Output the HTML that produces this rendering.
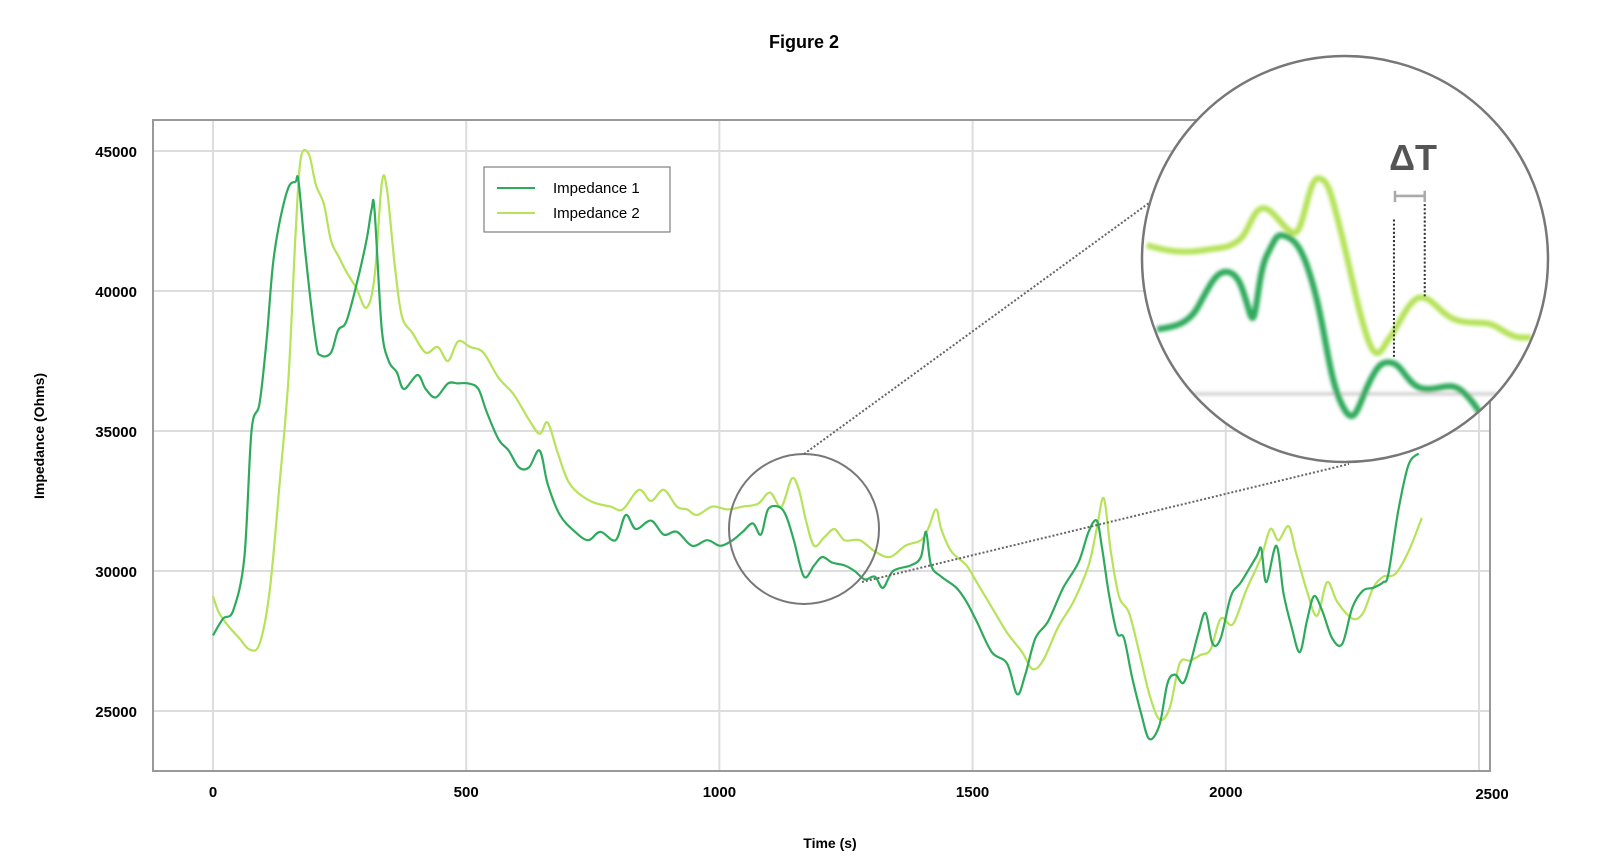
<!DOCTYPE html>
<html><head><meta charset="utf-8"><style>
body{margin:0;background:#fff;}
svg{display:block;font-family:"Liberation Sans",sans-serif;}
</style></head><body>
<svg id="chart" width="1600" height="856" viewBox="0 0 1600 856">
<defs>
<clipPath id="magclip"><circle cx="1345" cy="259" r="202"/></clipPath>
<filter id="blur"><feGaussianBlur stdDeviation="1.6"/></filter>
</defs>
<text x="804" y="48" text-anchor="middle" font-size="18" font-weight="bold">Figure 2</text>
<text transform="translate(44,436) rotate(-90)" text-anchor="middle" font-size="14" font-weight="bold">Impedance (Ohms)</text>
<text x="830" y="848" text-anchor="middle" font-size="14" font-weight="bold">Time (s)</text>
<g id="grid"></g>
<g id="ticks"></g>
<rect x="153" y="120" width="1337" height="651" fill="none" stroke="#999" stroke-width="2"/>
<g id="series"></g>
<g>
<rect x="484" y="167" width="186" height="65" fill="#fff" stroke="#666" stroke-width="1"/>
<line x1="497" y1="188" x2="535" y2="188" stroke="#2eaa5c" stroke-width="2"/>
<text x="553" y="193" font-size="15">Impedance 1</text>
<line x1="497" y1="213" x2="535" y2="213" stroke="#b6e35a" stroke-width="2"/>
<text x="553" y="218" font-size="15">Impedance 2</text>
</g>
<g>
<circle cx="804" cy="529" r="75" fill="none" stroke="#777" stroke-width="2"/>
<line x1="804" y1="454" x2="1160" y2="195" stroke="#666" stroke-width="2" stroke-dasharray="2,2"/>
<line x1="862" y1="582" x2="1349" y2="464" stroke="#666" stroke-width="2" stroke-dasharray="2,2"/>
<circle cx="1345" cy="259" r="202" fill="#fff"/>
<g clip-path="url(#magclip)">
<g transform="translate(-7,-1) scale(1.0256)">
<g filter="url(#blur)">
<line x1="1100" y1="385" x2="1520" y2="385" stroke="#ccc" stroke-width="3"/>
<path fill="none" stroke="#b6e35a" stroke-width="6" d="M1125,240 C1145,246 1160,248 1180,245 S1205,243 1215,235 S1228,205 1238,204 S1258,225 1268,228 S1282,175 1292,175 S1305,190 1315,230 S1330,300 1340,330 S1355,338 1362,330 S1380,292 1392,291 S1412,310 1430,314 S1455,312 1470,322 S1490,330 1500,330"/>
<path fill="none" stroke="#2eaa5c" stroke-width="6" d="M1135,322 C1150,320 1165,318 1175,300 S1192,265 1203,266 S1218,280 1225,305 S1232,270 1242,250 S1252,228 1262,232 S1280,250 1290,290 S1303,370 1315,395 S1330,400 1340,378 S1355,352 1365,355 S1380,378 1395,380 S1420,372 1432,382 S1450,405 1465,425"/>
</g>
<line x1="1366" y1="215" x2="1366" y2="350" stroke="#333" stroke-width="2" stroke-dasharray="2,2"/>
<line x1="1396" y1="200" x2="1396" y2="290" stroke="#333" stroke-width="2" stroke-dasharray="2,2"/>
<path d="M1367,187 V198 M1367,192 H1396 M1396,187 V198" stroke="#aaa" stroke-width="2.5" fill="none"/>
</g>
<text x="1413" y="170" text-anchor="middle" font-size="36" font-weight="bold" fill="#555">ΔT</text>
</g>
<circle cx="1345" cy="259" r="203" fill="none" stroke="#777" stroke-width="2.5"/>
</g>
</svg>
<script>
const xTicks = [0, 500, 1000, 1500, 2000, 2500];
const yTicks = [25000, 30000, 35000, 40000, 45000];
const t1 = [0,20,40,62,76,92,106,118,132,149,163,169,183,203,213,233,247,263,283,303,313,319,333,347,363,377,404,420,440,464,484,504,524,540,564,584,604,624,645,661,685,715,741,765,795,815,835,865,890,916,946,976,1002,1026,1046,1066,1082,1096,1116,1131,1147,1167,1187,1203,1223,1247,1267,1287,1307,1323,1343,1378,1398,1408,1418,1438,1468,1488,1508,1538,1568,1588,1604,1624,1649,1679,1709,1729,1745,1755,1769,1785,1799,1815,1833,1849,1869,1885,1900,1916,1930,1946,1960,1974,1990,2010,2030,2060,2070,2080,2100,2114,2130,2146,2160,2174,2190,2210,2230,2250,2271,2291,2311,2321,2341,2361,2381];
const impedance1 = [27700,28300,28600,30500,35000,36000,38300,40900,42500,43700,43900,43900,41250,38200,37700,37800,38600,38900,40200,41800,42900,42900,38700,37500,37100,36500,37000,36500,36200,36700,36700,36700,36500,35700,34700,34300,33700,33700,34300,33100,32000,31400,31100,31400,31100,32000,31500,31800,31300,31400,30900,31100,30900,31100,31400,31700,31300,32200,32300,32000,31100,29800,30200,30500,30300,30200,30000,29700,29800,29400,30000,30200,30500,31400,30200,29800,29400,28900,28200,27100,26700,25600,26300,27600,28200,29400,30300,31400,31800,30900,29200,27800,27600,26200,24900,24000,24500,26000,26300,26000,26700,27800,28500,27400,27600,29100,29600,30500,30800,29600,30900,29200,28000,27100,28200,29100,28600,27600,27400,28700,29300,29400,29600,29900,32200,33800,34200];
const t2 = [0,12,32,52,72,92,112,132,149,163,173,189,203,219,233,249,263,283,303,319,333,343,359,373,394,420,444,464,484,508,534,564,594,624,645,661,681,705,745,785,809,841,865,890,916,936,956,986,1016,1046,1076,1100,1122,1143,1157,1171,1187,1207,1227,1247,1277,1307,1337,1367,1398,1412,1428,1438,1458,1488,1508,1538,1568,1598,1618,1639,1669,1699,1729,1745,1759,1773,1789,1809,1829,1849,1869,1889,1909,1930,1950,1970,1990,2014,2040,2070,2088,2104,2124,2138,2160,2180,2200,2220,2250,2271,2291,2311,2335,2361,2387];
const impedance2 = [29100,28500,28000,27600,27200,27400,29300,33200,36900,42000,44700,44900,43800,43100,41800,41200,40700,40100,39400,40500,43800,43700,40900,39100,38500,37800,38000,37500,38200,38000,37800,36900,36300,35400,34900,35300,34200,33100,32500,32300,32200,32900,32500,32900,32300,32200,32000,32300,32200,32300,32400,32800,32300,33300,32900,31800,30900,31200,31500,31100,31100,30700,30500,30900,31100,31500,32200,31500,30700,30200,29600,28700,27800,27100,26500,26800,28000,28900,30200,31500,32600,30700,29100,28500,27100,25600,24700,25100,26700,26800,27000,27200,28300,28100,29300,30500,31500,31100,31600,30700,29300,28400,29600,28900,28300,28500,29400,29800,29900,30700,31900];
const X = v => 213 + (v - 0) * (1479 - 213) / 2500;
const Y = v => 711 - (v - 25000) * (711 - 151) / 20000;
const NS = 'http://www.w3.org/2000/svg';
const grid = document.getElementById('grid'), ticks = document.getElementById('ticks'), series = document.getElementById('series');
xTicks.forEach(v => {
  const l = document.createElementNS(NS, 'line');
  
  
  l.setAttribute('x1', X(v)); l.setAttribute('x2', X(v)); l.setAttribute('y1', 121); l.setAttribute('y2', 770);
  l.setAttribute('stroke', '#ddd'); l.setAttribute('stroke-width', 2);
  grid.appendChild(l);
  const t = document.createElementNS(NS, 'text');
  
  
  t.setAttribute('x', v === 2500 ? X(v) + 13 : X(v)); t.setAttribute('y', v === 2500 ? 799 : 797);
  t.setAttribute('text-anchor', 'middle'); t.setAttribute('font-size', 15); t.setAttribute('font-weight', 'bold');
  t.textContent = v; ticks.appendChild(t);
});
yTicks.forEach(v => {
  const l = document.createElementNS(NS, 'line');
  
  
  l.setAttribute('x1', 154); l.setAttribute('x2', 1489); l.setAttribute('y1', Y(v)); l.setAttribute('y2', Y(v));
  l.setAttribute('stroke', '#ddd'); l.setAttribute('stroke-width', 2);
  grid.appendChild(l);
  const t = document.createElementNS(NS, 'text');
  
  
  t.setAttribute('x', 137); t.setAttribute('y', Y(v) + 6);
  t.setAttribute('text-anchor', 'end'); t.setAttribute('font-size', 15); t.setAttribute('font-weight', 'bold');
  t.textContent = v; ticks.appendChild(t);
});
function smoothPath(ts, vs) {
  const p = ts.map((t, i) => [X(t), Y(vs[i])]);
  let d = 'M' + p[0][0].toFixed(1) + ',' + p[0][1].toFixed(1);
  for (let i = 0; i < p.length - 1; i++) {
    const p0 = p[Math.max(0, i - 1)], p1 = p[i], p2 = p[i + 1], p3 = p[Math.min(p.length - 1, i + 2)];
    const c1x = p1[0] + (p2[0] - p0[0]) / 6, c1y = p1[1] + (p2[1] - p0[1]) / 6;
    const c2x = p2[0] - (p3[0] - p1[0]) / 6, c2y = p2[1] - (p3[1] - p1[1]) / 6;
    d += ' C' + c1x.toFixed(1) + ',' + c1y.toFixed(1) + ' ' + c2x.toFixed(1) + ',' + c2y.toFixed(1) + ' ' + p2[0].toFixed(1) + ',' + p2[1].toFixed(1);
  }
  return d;
}
const p2 = document.createElementNS(NS, 'path');


p2.setAttribute('d', smoothPath(t2, impedance2));
p2.setAttribute('fill', 'none'); p2.setAttribute('stroke', '#b6e35a'); p2.setAttribute('stroke-width', 2.2);
series.appendChild(p2);
const p1 = document.createElementNS(NS, 'path');


p1.setAttribute('d', smoothPath(t1, impedance1));
p1.setAttribute('fill', 'none'); p1.setAttribute('stroke', '#2eaa5c'); p1.setAttribute('stroke-width', 2.2);
series.appendChild(p1);
</script>
</body></html>
